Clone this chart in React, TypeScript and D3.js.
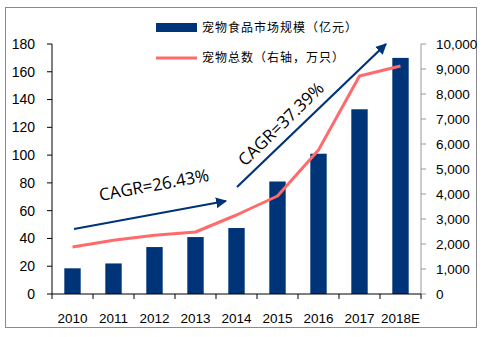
import React from "react";
import * as d3 from "d3";

const years = ["2010", "2011", "2012", "2013", "2014", "2015", "2016", "2017", "2018E"];
const foodMarket = [18.5, 22, 33.8, 41, 47.5, 81, 101, 133, 170];
const petCount = [1880, 2150, 2350, 2480, 3160, 3920, 5760, 8720, 9120];
const leftTicks = [0, 20, 40, 60, 80, 100, 120, 140, 160, 180];
const rightTicks = [0, 1000, 2000, 3000, 4000, 5000, 6000, 7000, 8000, 9000, 10000];
const legendBar = "宠物食品市场规模（亿元）";
const legendLine = "宠物总数（右轴，万只）";
const cagr1 = "CAGR=26.43%";
const cagr2 = "CAGR=37.39%";

const W = 487, H = 337;
const left = 52, right = 421, top = 44, bottom = 294;
const navy = "#003478";
const red = "#FF6B6B";

export default function App() {
  const x = d3.scaleBand<string>().domain(years).range([left, right]).paddingInner(0.6).paddingOuter(0.3);
  const band = d3.scaleBand<string>().domain(years).range([left, right]);
  const yL = d3.scaleLinear().domain([0, 180]).range([bottom, top]);
  const yR = d3.scaleLinear().domain([0, 10000]).range([bottom, top]);
  const line = d3.line<number>()
    .x((_, i) => (band(years[i]) as number) + band.bandwidth() / 2)
    .y((d) => yR(d));
  const fmt = d3.format(",");
  const numFont = "Liberation Sans, Arial, sans-serif";
  const cjkFont = "'Noto Sans CJK SC', sans-serif";
  const calFont = "'Open Sans', 'Liberation Sans', sans-serif";

  const boundaries = years.map((y) => band(y) as number).concat([right]);

  return (
    <svg width={W} height={H} style={{ position: "absolute", left: 0, top: 0, background: "#fff" }}>
      <defs>
        <marker id="ah" viewBox="0 0 10 10" refX="9" refY="5" markerWidth="5" markerHeight="5" orient="auto" markerUnits="strokeWidth">
          <path d="M0,0 L10,5 L0,10 z" fill={navy} />
        </marker>
      </defs>
      <rect x={5.5} y={7.5} width={471} height={320} fill="none" stroke="#8a8a8a" strokeWidth={1} />

      {/* bars */}
      {years.map((yr, i) => (
        <rect key={yr} x={x(yr)} y={yL(foodMarket[i])} width={x.bandwidth()} height={bottom - yL(foodMarket[i])} fill={navy} />
      ))}

      {/* line */}
      <path d={line(petCount) || ""} fill="none" stroke={red} strokeWidth={3} strokeLinejoin="round" />

      {/* left axis */}
      <line x1={left} x2={left} y1={top} y2={bottom} stroke="#000" />
      {leftTicks.map((t) => (
        <g key={t}>
          <line x1={left - 5} x2={left} y1={yL(t)} y2={yL(t)} stroke="#000" />
          <text x={35} y={yL(t)} dy="0.35em" textAnchor="end" fontFamily={numFont} fontSize={14} fill="#000">{t}</text>
        </g>
      ))}

      {/* right axis */}
      <line x1={right} x2={right} y1={top} y2={bottom} stroke="#999" />
      {rightTicks.map((t) => (
        <g key={t}>
          <line x1={right} x2={right + 5} y1={yR(t)} y2={yR(t)} stroke="#999" />
          <text x={436} y={yR(t)} dy="0.35em" textAnchor="start" fontFamily={numFont} fontSize={13.5} fill="#000">{fmt(t)}</text>
        </g>
      ))}

      {/* bottom axis */}
      <line x1={left} x2={right} y1={bottom} y2={bottom} stroke="#000" />
      {boundaries.map((b, i) => (
        <line key={i} x1={b} x2={b} y1={bottom} y2={bottom + 5} stroke="#000" />
      ))}
      {years.map((yr) => (
        <text key={yr} x={(band(yr) as number) + band.bandwidth() / 2} y={318} dy="0.35em" textAnchor="middle" fontFamily={numFont} fontSize={13.5} fill="#000">{yr}</text>
      ))}

      {/* legend */}
      <rect x={156} y={23} width={41} height={9} fill={navy} />
      <text x={202} y={28} dy="0.35em" fontFamily={cjkFont} fontSize={12} letterSpacing={1} fill="#000">{legendBar}</text>
      <line x1={156} x2={197} y1={58} y2={58} stroke={red} strokeWidth={3} />
      <text x={202} y={58} dy="0.35em" fontFamily={cjkFont} fontSize={12} letterSpacing={1} fill="#000">{legendLine}</text>

      {/* CAGR annotations */}
      <line x1={74} y1={229} x2={226} y2={201} stroke={navy} strokeWidth={2.2} markerEnd="url(#ah)" />
      <text transform="translate(154,185) rotate(-10.5)" textAnchor="middle" dy="0.35em" fontFamily={calFont} fontSize={17} fill="#000">{cagr1}</text>
      <line x1={237} y1={187} x2={386} y2={44} stroke={navy} strokeWidth={2.2} markerEnd="url(#ah)" />
      <text transform="translate(281,124) rotate(-44)" textAnchor="middle" dy="0.35em" fontFamily={calFont} fontSize={17} fill="#000">{cagr2}</text>
    </svg>
  );
}
